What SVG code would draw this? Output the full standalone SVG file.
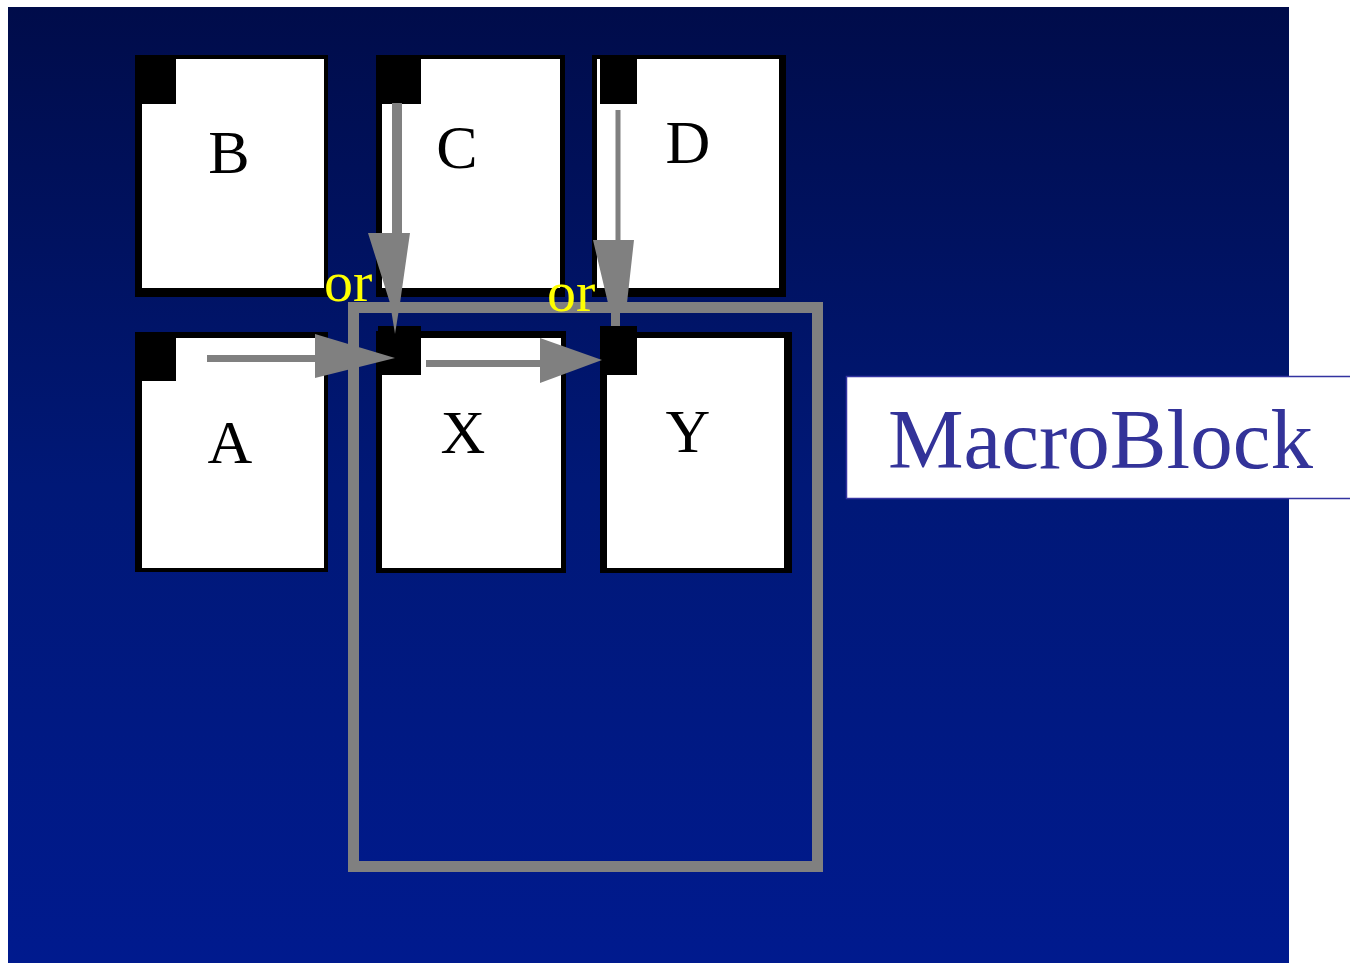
<svg xmlns="http://www.w3.org/2000/svg" width="1350" height="963" viewBox="0 0 1350 963">
<defs>
<linearGradient id="bg" x1="0" y1="0" x2="0" y2="1">
<stop offset="0" stop-color="#000c4a"/>
<stop offset="0.5" stop-color="#001877"/>
<stop offset="1" stop-color="#001a8e"/>
</linearGradient>
<style>
.blk{fill:#000}
.wht{fill:#fff}
.lbl{font-family:"Liberation Serif","Times New Roman",serif;font-size:62px;fill:#000;text-anchor:middle}
.or{font-family:"Liberation Serif","Times New Roman",serif;font-size:58px;fill:#ffff00}
.arr{fill:#808080}
</style>
</defs>
<rect x="0" y="0" width="1350" height="963" fill="#fff"/>
<rect x="8" y="7" width="1281" height="956" fill="url(#bg)"/>

<g id="B">
<rect class="blk" x="135" y="55" width="193" height="242"/>
<rect class="wht" x="142" y="59" width="182" height="229"/>
<rect class="blk" x="135" y="55" width="41" height="49"/>
<text class="lbl" x="229" y="173">B</text>
</g>
<g id="C">
<rect class="blk" x="376" y="55" width="189" height="242"/>
<rect class="wht" x="382" y="59" width="178" height="229"/>
<rect class="blk" x="376" y="55" width="45" height="49"/>
<text class="lbl" x="457" y="168">C</text>
</g>
<g id="D">
<rect class="blk" x="592" y="55" width="194" height="242"/>
<rect class="wht" x="597" y="59" width="182" height="229"/>
<rect class="blk" x="600" y="55" width="37" height="49"/>
<text class="lbl" x="688" y="163">D</text>
</g>
<g id="A">
<rect class="blk" x="135" y="332" width="193" height="240"/>
<rect class="wht" x="142" y="338" width="182" height="230"/>
<rect class="blk" x="135" y="332" width="41" height="49"/>
<text class="lbl" x="230" y="463">A</text>
</g>
<g id="X">
<rect class="blk" x="376" y="331" width="190" height="242"/>
<rect class="wht" x="382" y="338" width="179" height="230"/>
<rect class="blk" x="378" y="326" width="43" height="49"/>
<text class="lbl" x="463" y="453">X</text>
</g>
<g id="Y">
<rect class="blk" x="600" y="332" width="192" height="241"/>
<rect class="wht" x="607" y="338" width="177" height="230"/>
<rect class="blk" x="600" y="326" width="37" height="49"/>
<text class="lbl" x="688" y="452">Y</text>
</g>

<g id="macroblock-frame">
<rect x="353.5" y="307.5" width="464" height="559" fill="none" stroke="#808080" stroke-width="11"/>
</g>

<g id="connectors">
<rect class="arr" x="392" y="103" width="10" height="132"/>
<polygon class="arr" points="368,233 410,233 400,303 395,334 390,303"/>
<rect class="arr" x="615.5" y="110" width="5" height="132"/>
<polygon class="arr" points="593,240 634,240 627,303 620,305 620,326 611,326 611,305 608,303"/>
<rect class="arr" x="207" y="355" width="111" height="7"/>
<polygon class="arr" points="315,334 315,378 395,358"/>
<rect class="arr" x="426" y="360" width="118" height="7"/>
<polygon class="arr" points="540,338 540,383 602,360"/>
</g>

<g id="or-labels">
<text class="or" x="324" y="301">or</text>
<text class="or" x="547" y="311">or</text>
</g>

<g id="MacroBlock">
<rect x="846.5" y="376.5" width="520" height="122" fill="#fff" stroke="#3333a0" stroke-width="1.5"/>
<text x="888" y="468" font-family="'Liberation Serif','Times New Roman',serif" font-size="85" fill="#333399">MacroBlock</text>
</g>
</svg>
